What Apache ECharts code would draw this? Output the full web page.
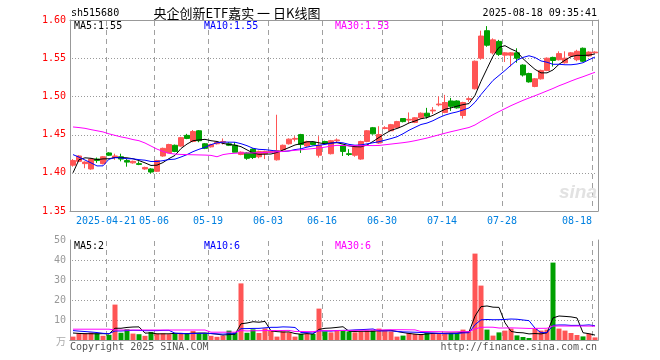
<!DOCTYPE html>
<html><head><meta charset="utf-8">
<script src="https://cdn.jsdelivr.net/npm/echarts@6/dist/echarts.min.js"></script>
<style>html,body{margin:0;padding:0;background:#fff}#c{width:660px;height:360px}</style>
</head><body><div id="c"></div>
<script>
const dates = ['2025-04-11','2025-04-14','2025-04-15','2025-04-16','2025-04-17','2025-04-18','2025-04-21','2025-04-22','2025-04-23','2025-04-24','2025-04-25','2025-04-28','2025-04-29','2025-04-30','2025-05-06','2025-05-07','2025-05-08','2025-05-09','2025-05-12','2025-05-13','2025-05-14','2025-05-15','2025-05-16','2025-05-19','2025-05-20','2025-05-21','2025-05-22','2025-05-23','2025-05-26','2025-05-27','2025-05-28','2025-05-29','2025-05-30','2025-06-03','2025-06-04','2025-06-05','2025-06-06','2025-06-09','2025-06-10','2025-06-11','2025-06-12','2025-06-13','2025-06-16','2025-06-17','2025-06-18','2025-06-19','2025-06-20','2025-06-23','2025-06-24','2025-06-25','2025-06-26','2025-06-27','2025-06-30','2025-07-01','2025-07-02','2025-07-03','2025-07-04','2025-07-07','2025-07-08','2025-07-09','2025-07-10','2025-07-11','2025-07-14','2025-07-15','2025-07-16','2025-07-17','2025-07-18','2025-07-21','2025-07-22','2025-07-23','2025-07-24','2025-07-25','2025-07-28','2025-07-29','2025-07-30','2025-07-31','2025-08-01','2025-08-04','2025-08-05','2025-08-06','2025-08-07','2025-08-08','2025-08-11','2025-08-12','2025-08-13','2025-08-14','2025-08-15','2025-08-18'];

const open = [1.410,1.415,1.412,1.405,1.418,1.412,1.426,1.420,1.421,1.416,
 1.413,1.412,1.405,1.405,1.402,1.422,1.426,1.436,1.435,1.449,
 1.441,1.455,1.438,1.434,1.438,1.440,1.438,1.436,1.424,1.426,
 1.431,1.421,1.425,1.427,1.417,1.430,1.438,1.444,1.450,1.435,
 1.440,1.423,1.441,1.425,1.442,1.436,1.425,1.423,1.418,1.441,
 1.459,1.439,1.458,1.455,1.459,1.471,1.469,1.466,1.472,1.478,
 1.481,1.489,1.479,1.494,1.494,1.475,1.496,1.510,1.550,1.586,
 1.557,1.572,1.554,1.554,1.557,1.541,1.530,1.513,1.523,1.534,
 1.551,1.548,1.544,1.553,1.548,1.563,1.553,1.557];

const close = [1.416,1.422,1.414,1.418,1.416,1.421,1.423,1.422,1.418,1.414,
 1.415,1.411,1.407,1.401,1.416,1.432,1.437,1.428,1.446,1.445,
 1.454,1.442,1.432,1.437,1.440,1.441,1.436,1.427,1.427,1.419,
 1.420,1.428,1.428,1.428,1.429,1.436,1.444,1.445,1.437,1.441,
 1.437,1.436,1.439,1.442,1.443,1.428,1.424,1.434,1.441,1.455,
 1.451,1.450,1.459,1.463,1.467,1.467,1.470,1.472,1.478,1.474,
 1.482,1.490,1.492,1.487,1.485,1.492,1.497,1.546,1.579,1.567,
 1.574,1.555,1.557,1.557,1.550,1.528,1.519,1.523,1.534,1.550,
 1.547,1.556,1.550,1.557,1.559,1.546,1.558,1.558];

const low = [1.408,1.414,1.406,1.404,1.413,1.411,1.422,1.417,1.415,1.408,
 1.412,1.410,1.404,1.399,1.401,1.421,1.426,1.427,1.434,1.444,
 1.440,1.440,1.431,1.433,1.437,1.437,1.435,1.427,1.423,1.417,
 1.418,1.419,1.418,1.426,1.416,1.429,1.437,1.441,1.426,1.434,
 1.436,1.420,1.437,1.424,1.439,1.422,1.422,1.421,1.417,1.440,
 1.450,1.438,1.457,1.455,1.458,1.466,1.465,1.465,1.471,1.471,
 1.477,1.487,1.478,1.481,1.484,1.471,1.493,1.509,1.548,1.565,
 1.555,1.553,1.545,1.539,1.544,1.526,1.518,1.512,1.522,1.533,
 1.539,1.547,1.543,1.551,1.546,1.545,1.552,1.557];

const high = [1.418,1.423,1.415,1.419,1.420,1.422,1.427,1.425,1.425,1.418,
 1.416,1.415,1.408,1.406,1.417,1.433,1.438,1.437,1.447,1.451,
 1.456,1.456,1.439,1.438,1.441,1.445,1.440,1.440,1.428,1.427,
 1.432,1.429,1.429,1.429,1.476,1.437,1.445,1.448,1.451,1.442,
 1.441,1.448,1.442,1.443,1.445,1.436,1.431,1.435,1.442,1.456,
 1.460,1.461,1.461,1.464,1.468,1.471,1.479,1.473,1.479,1.485,
 1.486,1.500,1.502,1.498,1.495,1.493,1.499,1.547,1.586,1.592,
 1.576,1.574,1.558,1.558,1.563,1.542,1.531,1.524,1.535,1.551,
 1.552,1.559,1.559,1.558,1.561,1.564,1.559,1.559];

const volume = [1.7,3.4,3.4,3.7,3.3,2.1,2.6,17.7,3.6,5.4,
 3.2,2.9,2.1,4.0,3.2,3.3,2.9,3.3,3.2,3.2,
 4.5,3.2,3.2,2.1,1.6,2.1,4.7,3.8,28.3,3.6,
 5.3,3.5,5.8,4.6,1.7,4.3,3.8,1.7,3.0,3.2,
 3.0,15.7,4.3,3.8,4.7,4.7,4.3,3.8,4.3,4.7,
 4.8,5.7,4.7,4.3,1.7,2.2,3.5,3.0,3.0,3.5,
 3.5,3.5,3.5,3.5,3.5,5.2,4.3,43.2,27.2,5.2,
 2.2,3.8,4.7,5.7,2.3,1.5,1.0,5.7,4.7,5.2,
 38.7,5.7,4.7,3.5,2.5,1.8,3.2,1.3];

// closes / volumes of the 9 sessions before the visible window (estimated from the MA lines)
const priorClose = [1.455,1.452,1.455,1.456,1.420,1.336,1.402,1.421,1.425];
const priorVolume = [6.0,5.5,6.0,6.0,6.0,4.5,4.0,3.8,3.5];
// MA30 values for the first 29 sessions (history not shown)
const ma30Head = [1.4600,1.4592,1.4582,1.4565,1.4550,1.4535,1.4510,1.4490,1.4470,1.4455,
 1.4435,1.4420,1.4390,1.4350,1.4310,1.4280,1.4255,1.4245,1.4240,1.4238,
 1.4236,1.4234,1.4232,1.4228,1.4210,1.4238,1.4250,1.4256,1.4260];
const volMa30Head = [5.4,5.4,5.4,5.4,5.4,5.4,5.4,5.0,5.0,5.0,
 5.0,5.0,5.0,5.0,5.0,5.0,5.0,5.0,5.0,5.0,
 5.0,5.0,5.0,3.9,3.9,3.9,3.9,3.9,4.7];

const labelDates = ['2025-04-21','2025-05-06','2025-05-19','2025-06-03','2025-06-16','2025-06-30','2025-07-14','2025-07-28','2025-08-18'];
const priceTicks = [1.40,1.45,1.50,1.55];
const volTicks = [10,20,30,40];
const priceLegend = ['MA5:1.55','MA10:1.55','MA30:1.53'];
const volLegend = ['MA5:2','MA10:6','MA30:6'];
const titleText = '央企创新ETF嘉实 一 日K线图';
const codeText = 'sh515680';
const timeText = '2025-08-18 09:35:41';

function sma(vals, prior, n) {
  const all = prior.concat(vals);
  return vals.map((_, i) => {
    const j = i + prior.length;
    let s = 0;
    for (let k = j - n + 1; k <= j; k++) s += all[k];
    return +(s / n).toFixed(4);
  });
}
function ma30(vals, head) {
  return vals.map((_, i) => {
    if (i < head.length) return head[i];
    let s = 0;
    for (let k = i - 29; k <= i; k++) s += vals[k];
    return +(s / 30).toFixed(4);
  });
}

const RED = '#ff5555', GREEN = '#00a000';
const MONO = '"DejaVu Sans Mono","Liberation Mono",monospace';
const labelIdx = labelDates.map(d => dates.indexOf(d));
const labelSet = new Set(labelIdx);
const firstLabel = labelIdx[0];
const lastLabel = labelIdx[labelIdx.length - 1];
const isUp = i => close[i] >= open[i];

const pMA5 = sma(close, priorClose, 5), pMA10 = sma(close, priorClose, 10), pMA30 = ma30(close, ma30Head);
const vMA5 = sma(volume, priorVolume, 5), vMA10 = sma(volume, priorVolume, 10), vMA30 = ma30(volume, volMa30Head);

const lineS = (data, color, xi) => ({type: 'line', xAxisIndex: xi, yAxisIndex: xi, data, symbol: 'none', silent: true,
  lineStyle: {color, width: 1}, z: 4});
const G = [{left: 70, right: 62, top: 20, height: 191}, {left: 70, right: 62, top: 240, height: 100}];

const chart = echarts.init(document.getElementById('c'));
chart.setOption({
  animation: false,
  backgroundColor: '#fff',
  grid: G.map(g => Object.assign({show: false}, g)),
  xAxis: [
    {type: 'category', gridIndex: 0, data: dates, boundaryGap: true,
     axisLine: {show: true, lineStyle: {color: '#999'}}, axisTick: {show: false},
     axisLabel: {interval: (i) => labelSet.has(i), margin: 5, color: '#0080e0', fontFamily: MONO, fontSize: 10,
       formatter: (v, i) => {
         if (i === firstLabel) return '{n|' + v + '}';
         if (i === lastLabel) return '{e|' + v.slice(5) + '}';
         return '{n|' + v.slice(5) + '}';
       },
       rich: {
         n: {padding: [0, 6, 0, 0], color: '#0080e0', fontFamily: MONO, fontSize: 10},
         e: {padding: [0, 36, 0, 0], color: '#0080e0', fontFamily: MONO, fontSize: 10}
       }},
     splitLine: {show: false}},
    {type: 'category', gridIndex: 1, data: dates, boundaryGap: true,
     axisLine: {show: true, lineStyle: {color: '#999'}}, axisTick: {show: false}, axisLabel: {show: false},
     splitLine: {show: false}},
    {type: 'category', gridIndex: 0, data: dates, position: 'top', axisLine: {show: true, lineStyle: {color: '#999'}},
     axisTick: {show: false}, axisLabel: {show: false}, splitLine: {show: false}},
    {type: 'category', gridIndex: 1, data: dates, position: 'top', axisLine: {show: true, lineStyle: {color: '#999'}},
     axisTick: {show: false}, axisLabel: {show: false}, splitLine: {show: false}}
  ],
  yAxis: [
    {type: 'value', gridIndex: 0, min: 1.35, max: 1.60, interval: 0.05,
     axisLine: {show: true, lineStyle: {color: '#999'}}, axisTick: {show: false},
     axisLabel: {color: '#ff0000', fontFamily: MONO, fontSize: 10, margin: 4, formatter: v => v.toFixed(2)},
     splitLine: {show: false}},
    {type: 'value', gridIndex: 1, min: 0, max: 50, interval: 10,
     axisLine: {show: true, lineStyle: {color: '#999'}}, axisTick: {show: false},
     axisLabel: {color: '#999', fontFamily: MONO, fontSize: 10, margin: 4, formatter: v => v === 0 ? '' : String(v)},
     splitLine: {show: false}},
    {type: 'value', gridIndex: 0, min: 1.35, max: 1.60, position: 'right', axisLine: {show: true, onZero: false, lineStyle: {color: '#999'}},
     axisTick: {show: false}, axisLabel: {show: false}, splitLine: {show: false}},
    {type: 'value', gridIndex: 1, min: 0, max: 50, position: 'right', axisLine: {show: true, onZero: false, lineStyle: {color: '#999'}},
     axisTick: {show: false}, axisLabel: {show: false}, splitLine: {show: false}}
  ],
  series: [
    {type: 'candlestick', xAxisIndex: 0, yAxisIndex: 0, barWidth: 5, silent: true, z: 2,
     data: dates.map((d, i) => [open[i], close[i], low[i], high[i]]),
     itemStyle: {color: RED, color0: GREEN, borderColor: RED, borderColor0: GREEN, borderWidth: 1}},
    lineS(pMA5, '#000000', 0), lineS(pMA10, '#0000ff', 0), lineS(pMA30, '#ff00ff', 0),
    {type: 'bar', xAxisIndex: 1, yAxisIndex: 1, barWidth: 5, silent: true, z: 2,
     data: volume.map((v, i) => ({value: v, itemStyle: {color: isUp(i) ? RED : GREEN}}))},
    lineS(vMA5, '#000000', 1), lineS(vMA10, '#0000ff', 1), lineS(vMA30, '#ff00ff', 1)
  ]
});

// Grid lines: positions from the library's own axes (convertToPixel), drawn as short solid segments
function seg(x1, y1, x2, y2, stroke) {
  return {type: 'line', z: 1, silent: true, shape: {x1, y1, x2, y2}, style: {stroke, lineWidth: 1}};
}
function panelLines(axisIdx, yMin, yMax, hTicks) {
  const out = [];
  const yTop = chart.convertToPixel({yAxisIndex: axisIdx}, yMax);
  const yBot = chart.convertToPixel({yAxisIndex: axisIdx}, yMin);
  const c0 = chart.convertToPixel({xAxisIndex: axisIdx}, dates[0]);
  const c1 = chart.convertToPixel({xAxisIndex: axisIdx}, dates[1]);
  const band = c1 - c0;
  const xLeft = c0 - band / 2, xRight = xLeft + band * dates.length;
  labelIdx.forEach(i => {
    const x = Math.round(chart.convertToPixel({xAxisIndex: axisIdx}, dates[i]) - band / 2) + 0.5;
    for (let y = Math.round(yTop) + 1; y < yBot - 1; y += 9) out.push(seg(x, y, x, Math.min(y + 5, yBot - 1), '#a0a0a0'));
  });
  hTicks.forEach(t => {
    const y = Math.round(chart.convertToPixel({yAxisIndex: axisIdx}, t)) + 0.5;
    for (let x = Math.round(xLeft) + 2; x < xRight - 1; x += 3) out.push(seg(x, y, x + 1, y, '#9a9a9a'));
  });
  return out;
}

const T = (text, x, y, fill, extra) => ({type: 'text', x, y, z: 10, silent: true,
  style: Object.assign({text, fill, fontFamily: MONO, fontSize: 10, verticalAlign: 'middle'}, extra || {})});

chart.setOption({
  graphic: [].concat(
    panelLines(0, 1.35, 1.60, priceTicks),
    panelLines(1, 0, 50, volTicks),
    [
      T(codeText, 71, 13, '#000'),
      T(titleText, 237, 13, '#000', {fontFamily: '"Noto Sans CJK SC"', fontSize: 13, align: 'center'}),
      T(timeText, 597, 13, '#000', {align: 'right'}),
      T(priceLegend[0], 74, 26, '#000'),
      T(priceLegend[1], 204, 26, '#0000ff'),
      T(priceLegend[2], 335, 26, '#ff00ff'),
      T(volLegend[0], 74, 246, '#000'),
      T(volLegend[1], 204, 246, '#0000ff'),
      T(volLegend[2], 335, 246, '#ff00ff'),
      T('万', 66, 341, '#aaa', {fontFamily: '"Noto Sans CJK SC"', align: 'right'}),
      T('Copyright 2025 SINA.COM', 70, 347, '#555'),
      T('http://finance.sina.com.cn', 597, 347, '#555', {align: 'right'}),
      T('sina', 578, 193, '#e2e2e2', {fontFamily: 'Liberation Sans', fontSize: 19, fontWeight: 'bold', fontStyle: 'italic', align: 'center'})
    ]
  )
});
</script></body></html>
